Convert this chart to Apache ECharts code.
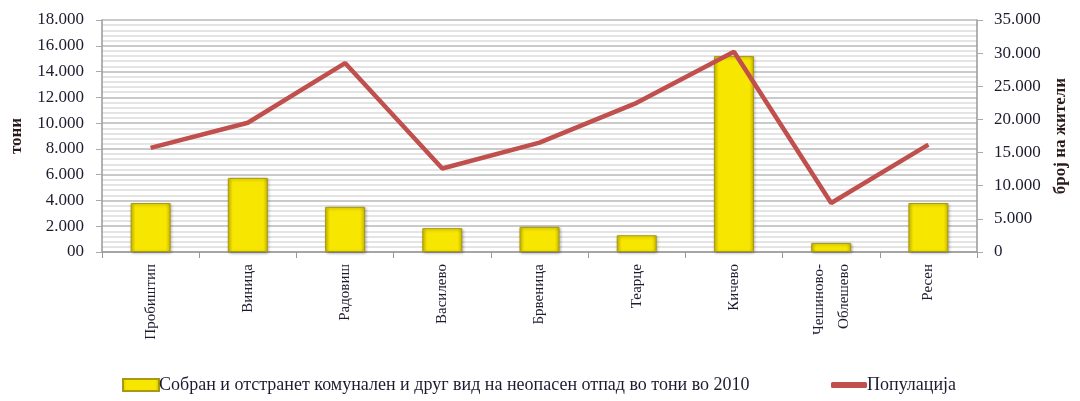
<!DOCTYPE html>
<html>
<head>
  <meta charset="utf-8">
  <title>Отпад и популација</title>
  <script src="https://cdn.jsdelivr.net/npm/echarts@6/dist/echarts.min.js"></script>
  <style>
    html, body { margin: 0; padding: 0; background: #fff; }
    #main { width: 1080px; height: 401px; }
  </style>
</head>
<body>
  <div id="main"></div>
  <script>
  // општини
  var categories = ['Пробиштип', 'Виница', 'Радовиш', 'Василево', 'Брвеница', 'Теарце', 'Кичево', 'Чешиново-\nОблешево', 'Ресен'];
  // собран отпад во тони, 2010
  var waste = [3800, 5750, 3500, 1850, 1950, 1300, 15200, 700, 3800];
  // популација
  var population = [15700, 19500, 28500, 12600, 16500, 22500, 30200, 7400, 16200];
  var wasteName = 'Собран и отстранет комунален и друг вид на неопасен отпад во тони во 2010';
  var popName = 'Популација';

  var serif = '"Liberation Serif", "DejaVu Serif", serif';
  var txt = '#1c1c30';

  function dots(v) {
    return String(v).replace(/\B(?=(\d{3})+(?!\d))/g, '.');
  }

  var myChart = echarts.init(document.getElementById('main'));
  myChart.setOption({
    animation: false,
    textStyle: { fontFamily: serif },
    grid: { left: 102, right: 103, top: 20, bottom: 149, outerBoundsMode: 'none', containLabel: false },
    // две легенди за различна висина на иконите
    legend: [
      {
        bottom: 2,
        left: 117,
        itemWidth: 36,
        itemHeight: 12,
        textStyle: { fontFamily: serif, fontSize: 18, color: txt, padding: [0, 0, 0, -5] },
        data: [{ name: wasteName, icon: 'rect' }]
      },
      {
        bottom: 2,
        left: 826,
        itemWidth: 36,
        itemHeight: 6,
        textStyle: { fontFamily: serif, fontSize: 18, color: txt, padding: [0, 0, 0, -5] },
        data: [{ name: popName, icon: 'roundRect' }]
      }
    ],
    xAxis: {
      type: 'category',
      data: categories,
      axisLine: { lineStyle: { color: '#999', width: 1.5 } },
      axisTick: { show: true, length: 6, lineStyle: { color: '#999' } },
      axisLabel: { rotate: 90, fontSize: 15, color: txt, margin: 12, fontFamily: serif, lineHeight: 25 }
    },
    yAxis: [
      {
        type: 'value',
        min: 0, max: 18000, interval: 2000,
        name: 'тони',
        nameLocation: 'middle',
        nameRotate: 90,
        nameGap: 77,
        nameTextStyle: { fontFamily: serif, fontWeight: 'bold', fontSize: 17, color: '#2a1a1a' },
        axisLine: { show: true, lineStyle: { color: '#999', width: 1.5 } },
        axisTick: { show: true, length: 6, lineStyle: { color: '#aaa' } },
        axisLabel: {
          fontSize: 17, color: txt, margin: 18, fontFamily: serif,
          formatter: function (v) { return v === 0 ? '00' : dots(v); }
        },
        splitLine: { show: true, lineStyle: { color: '#b8b8b8', width: 1.5 } },
        minorTick: { show: false, splitNumber: 5 },
        minorSplitLine: { show: true, lineStyle: { color: '#dcdcdc', width: 1.5 } }
      },
      {
        type: 'value',
        min: 0, max: 35000, interval: 5000,
        name: 'број на жители',
        nameLocation: 'middle',
        nameRotate: 90,
        nameGap: 75,
        nameTextStyle: { fontFamily: serif, fontWeight: 'bold', fontSize: 17, color: '#2a1a1a' },
        axisLine: { show: true, lineStyle: { color: '#999', width: 1.5 } },
        axisTick: { show: true, length: 6, lineStyle: { color: '#aaa' } },
        axisLabel: {
          fontSize: 17, color: txt, margin: 17, fontFamily: serif,
          formatter: function (v) { return dots(v); }
        },
        splitLine: { show: false }
      }
    ],
    series: [
      {
        name: wasteName,
        type: 'bar',
        yAxisIndex: 0,
        barWidth: 40,
        data: waste,
        itemStyle: {
          color: new echarts.graphic.LinearGradient(0, 0, 1, 0, [
            { offset: 0, color: '#d4c400' },
            { offset: 0.12, color: '#f7e600' },
            { offset: 0.88, color: '#f7e600' },
            { offset: 1, color: '#cbbb00' }
          ]),
          borderColor: '#a89a10',
          borderWidth: 1,
          shadowColor: 'rgba(0,0,0,0.3)',
          shadowBlur: 3,
          shadowOffsetX: 1,
          shadowOffsetY: 1
        }
      },
      {
        name: popName,
        type: 'line',
        yAxisIndex: 1,
        data: population,
        symbol: 'none',
        lineStyle: { color: '#c0504d', width: 4.5 },
        itemStyle: { color: '#c0504d' }
      }
    ]
  });
  </script>
</body>
</html>
